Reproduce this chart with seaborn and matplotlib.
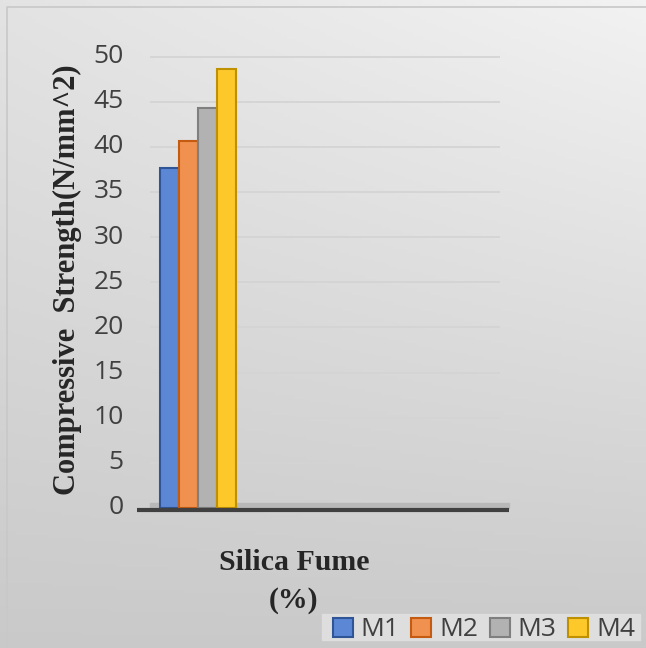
import numpy as np
import pandas as pd
import matplotlib
matplotlib.use("Agg")
import matplotlib.pyplot as plt
import matplotlib.transforms as mtransforms
import seaborn as sns

# ---- data ----
categories = ["Silica Fume"]
mixes = ["M1", "M2", "M3", "M4"]
values = [37.7, 40.6, 44.3, 48.6]
yticks = [0, 5, 10, 15, 20, 25, 30, 35, 40, 45, 50]

df = pd.DataFrame({"category": categories * len(mixes), "mix": mixes, "value": values})

face_colors = ["#5B87D4", "#F0914F", "#B2B2B2", "#FCC82A"]
edge_colors = ["#2F5597", "#C55A11", "#7F7F7F", "#BF9000"]

sns.set_theme(style="white")
plt.rcParams["font.family"] = ["Open Sans", "DejaVu Sans"]

W, H = 646, 648
fig = plt.figure(figsize=(W / 100, H / 100), dpi=100)

# background gradient
bg = fig.add_axes([0, 0, 1, 1], zorder=-10)
yy, xx = np.mgrid[0:1:200j, 0:1:200j]
shade = 0.79 + 0.10 * (1 - yy) + 0.06 * xx * (1 - yy)
shade = np.clip(shade, 0, 1)
bg.imshow(np.dstack([shade, shade, shade]), extent=[0, 1, 0, 1], aspect="auto", origin="upper")
bg.set_xlim(0, 1); bg.set_ylim(0, 1)
bg.axis("off")
# outer border
bg.plot([7 / W, 7 / W, 1, 1], [0, 1 - 7 / H, 1 - 7 / H, 1 - 7 / H], color="#c8c8c8", lw=1.2)
# legend box background
bg.add_patch(plt.Rectangle((322 / W, 1 - 640 / H), 318 / W, 26 / H, color="#dedede", zorder=1))

ax = fig.add_axes([150 / W, 1 - 508 / H, 350 / W, 456 / H])
ax.set_facecolor("none")

sns.barplot(data=df, x="category", y="value", hue="mix", palette=face_colors,
            width=0.87, saturation=1, ax=ax, legend=True)
for i, cont in enumerate(ax.containers):
    for p in cont.patches:
        p.set_edgecolor(edge_colors[i])
        p.set_linewidth(1.5)
        p.set_zorder(3)

ax.set_xlim(-0.55, 3.45)
ax.set_ylim(0, 50.5)
ax.set_yticks(yticks)
ax.set_yticklabels([str(t) for t in yticks], fontsize=19, color="#404040")
ax.tick_params(axis="y", length=0, pad=19)
offset = mtransforms.ScaledTranslation(0, 3 / 100, fig.dpi_scale_trans)
for lab in ax.get_yticklabels():
    lab.set_transform(lab.get_transform() + offset)
ax.set_xticks([])
ax.yaxis.grid(True, color="#d4d4d4", lw=1.3)
ax.set_axisbelow(True)
for s in ax.spines.values():
    s.set_visible(False)
# floor
ax.fill_between([-0.55, 3.55], [-0.05, -0.05], [0.6, 0.6], color="#b8b8b8", zorder=2, clip_on=False)
ax.plot([-0.7, 3.55], [-0.2, -0.2], color="#404040", lw=3, zorder=4, clip_on=False, solid_capstyle="butt")

ax.set_xlabel("")
ax.set_ylabel("")
fig.text(67 / W, 1 - 280 / H, "Compressive  Strength(N/mm^2)", rotation=90, ha="center", va="center",
         fontsize=22, fontweight="bold", family=["Liberation Serif"], color="#262626")
fig.text(294 / W, 1 - 562 / H, "Silica Fume", ha="center", va="center",
         fontsize=21.5, fontweight="bold", family=["Liberation Serif"], color="#262626")
fig.text(294 / W, 1 - 600 / H, "(%)", ha="center", va="center",
         fontsize=21.5, fontweight="bold", family=["Liberation Serif"], color="#262626")

handles, labels = ax.get_legend_handles_labels()
ax.get_legend().remove()
for h, ec in zip(handles, edge_colors):
    h.set_edgecolor(ec)
    h.set_linewidth(1.5)
leg = fig.legend(handles, labels, ncol=4, loc="center", bbox_to_anchor=(484 / W, 1 - 630 / H),
                 frameon=False, fontsize=19, handlelength=0.75, handleheight=0.75,
                 handletextpad=0.3, columnspacing=0.45, borderpad=0)
for t in leg.get_texts():
    t.set_color("#404040")

fig.savefig("out.png", dpi=100)
